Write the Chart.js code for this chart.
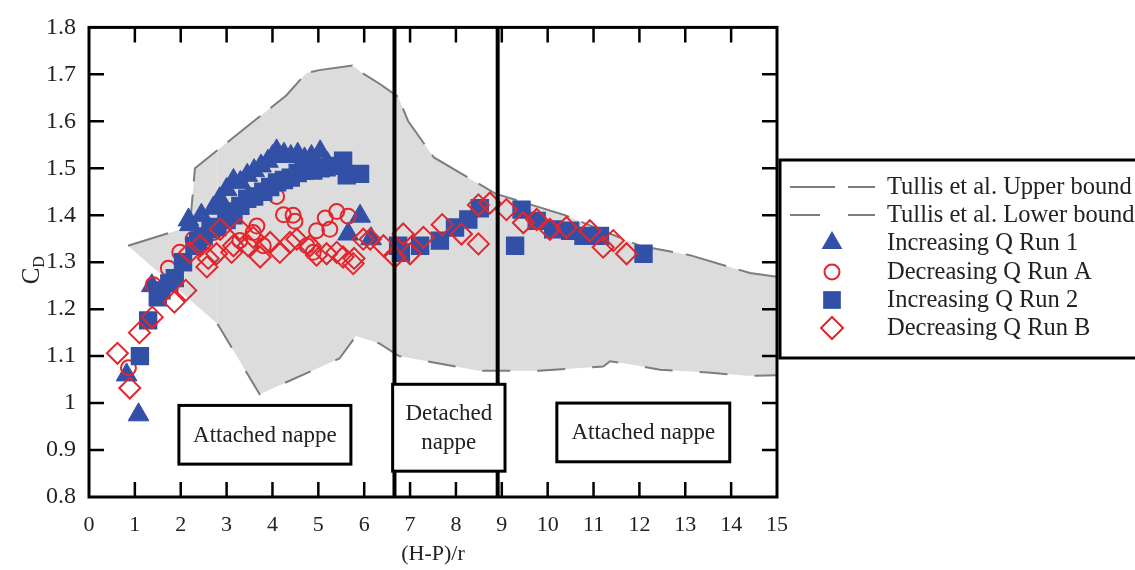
<!DOCTYPE html>
<html>
<head>
<meta charset="utf-8">
<script src="https://cdn.jsdelivr.net/npm/chart.js@4.4.1/dist/chart.umd.min.js"></script>
<style>
  html, body { margin: 0; padding: 0; background: #fff; }
  #wrap { width: 1135px; height: 570px; }
</style>
</head>
<body>
<div id="wrap"><canvas id="chart" width="1135" height="570"></canvas></div>
<script>
const X_TICKS = [0, 1, 2, 3, 4, 5, 6, 7, 8, 9, 10, 11, 12, 13, 14, 15];
const Y_TICKS = [0.8, 0.9, 1.0, 1.1, 1.2, 1.3, 1.4, 1.5, 1.6, 1.7, 1.8];

const SERIES_NAMES = [
  "Tullis et al. Upper bound",
  "Tullis et al. Lower bound",
  "Increasing Q Run 1",
  "Decreasing Q Run A",
  "Increasing Q Run 2",
  "Decreasing Q Run B",
];

// [ (H-P)/r , C_D ]
const RUN_1 = [
  [0.82, 1.06], [1.08, 0.975], [1.37, 1.25], [2.17, 1.39], [2.2, 1.38], [2.45, 1.40],
  [2.71, 1.415], [2.85, 1.435], [3.0, 1.455], [3.15, 1.474], [3.3, 1.47], [3.45, 1.485],
  [3.6, 1.495], [3.75, 1.505], [3.9, 1.515], [4.0, 1.525], [4.09, 1.537], [4.25, 1.53],
  [4.4, 1.525], [4.55, 1.53], [4.7, 1.52], [4.85, 1.525], [5.04, 1.535], [5.2, 1.51],
  [5.65, 1.36], [5.91, 1.398], [6.15, 1.35],
];
const RUN_A = [
  [0.86, 1.075], [1.40, 1.252], [1.73, 1.287], [1.98, 1.321], [2.27, 1.349], [2.71, 1.363],
  [3.29, 1.346], [3.58, 1.363], [3.66, 1.377], [3.80, 1.335], [4.09, 1.44], [4.24, 1.401],
  [4.45, 1.40], [4.49, 1.387], [4.75, 1.335], [4.89, 1.321], [4.96, 1.367], [5.15, 1.394],
  [5.25, 1.37], [5.40, 1.408], [5.65, 1.398],
];
const RUN_2 = [
  [1.11, 1.10], [1.29, 1.176], [1.5, 1.225], [1.58, 1.24], [1.75, 1.255], [1.87, 1.266],
  [2.05, 1.30], [2.3, 1.335], [2.38, 1.345], [2.5, 1.355], [2.65, 1.37], [2.8, 1.375],
  [3.0, 1.39], [3.0, 1.408], [3.15, 1.40], [3.3, 1.42], [3.45, 1.435], [3.6, 1.44],
  [3.8, 1.45], [3.95, 1.46], [4.1, 1.47], [4.25, 1.475], [4.4, 1.48], [4.55, 1.49],
  [4.7, 1.495], [4.89, 1.495], [5.05, 1.50], [5.18, 1.502], [5.35, 1.505], [5.54, 1.516],
  [5.62, 1.485], [5.91, 1.488],
  [6.74, 1.335], [6.8, 1.32], [7.22, 1.335], [7.65, 1.346], [7.98, 1.374], [8.27, 1.391],
  [8.52, 1.415], [9.29, 1.335], [9.43, 1.412], [9.76, 1.388], [10.12, 1.37], [10.49, 1.367],
  [10.78, 1.356], [11.14, 1.356], [12.09, 1.318],
];
const RUN_B = [
  [0.62, 1.106], [0.89, 1.032], [1.1, 1.15], [1.38, 1.183], [1.86, 1.215], [2.11, 1.24],
  [2.2, 1.321], [2.42, 1.335], [2.57, 1.29], [2.6, 1.308], [2.78, 1.318], [2.86, 1.37],
  [3.11, 1.321], [3.15, 1.335], [3.29, 1.37], [3.47, 1.335], [3.58, 1.353], [3.73, 1.311],
  [3.95, 1.342], [4.16, 1.321], [4.38, 1.342], [4.53, 1.349], [4.82, 1.335], [4.96, 1.315],
  [5.18, 1.318], [5.40, 1.321], [5.54, 1.311], [5.76, 1.297], [5.78, 1.308], [5.98, 1.349],
  [6.13, 1.349], [6.42, 1.335],
  [6.67, 1.311], [6.85, 1.36], [7.0, 1.318], [7.29, 1.353], [7.7, 1.38], [8.12, 1.36],
  [8.49, 1.339], [8.49, 1.422], [8.74, 1.426], [9.1, 1.412], [9.47, 1.384], [9.76, 1.391],
  [10.05, 1.37], [10.41, 1.374], [10.92, 1.367], [11.21, 1.332], [11.43, 1.346], [11.72, 1.318],
];
const UPPER_BOUND = [
  [0.85, 1.335], [2.2, 1.376], [2.31, 1.50], [3.46, 1.59], [4.3, 1.655], [4.74, 1.703],
  [5.02, 1.709], [5.74, 1.719], [5.96, 1.703], [6.35, 1.679], [6.74, 1.652], [6.96, 1.60],
  [7.52, 1.523], [8.86, 1.446], [10.38, 1.40], [12.01, 1.335], [13.1, 1.315], [14.41, 1.277],
  [15, 1.269],
];
const LOWER_BOUND = [
  [0.85, 1.335], [2.8, 1.169], [3.72, 1.019], [5.46, 1.095], [5.82, 1.143], [6.33, 1.127],
  [6.76, 1.10], [8.5, 1.069], [9.8, 1.069], [11.21, 1.078], [11.36, 1.089], [12.01, 1.079],
  [12.45, 1.071], [13.5, 1.065], [14.34, 1.058], [15, 1.059],
];

const REGIME_LINES = [6.66, 8.91];
const REGIME_BOXES = [
  { x0: 1.96, x1: 5.71, y0: 0.87, y1: 0.995, text: ["Attached nappe"] },
  { x0: 6.62, x1: 9.07, y0: 0.855, y1: 1.04, text: ["Detached", "nappe"] },
  { x0: 10.2, x1: 13.97, y0: 0.875, y1: 1.0, text: ["Attached nappe"] },
];

const BLUE = "#3150a6";
const RED = "#e3262c";
const BOUND_GREY = "#7d7d7d";
const FILL_GREY = "#dcdcdc";
const SERIF = "'Liberation Serif', 'DejaVu Serif', serif";

const pts = arr => arr.map(([x, y]) => ({ x, y }));

function drawMarker(ctx, style, x, y, r, color, filled) {
  ctx.save();
  ctx.beginPath();
  if (style === "triangle") {
    ctx.moveTo(x, y - r);
    ctx.lineTo(x + r * 0.866, y + r * 0.5);
    ctx.lineTo(x - r * 0.866, y + r * 0.5);
    ctx.closePath();
  } else if (style === "rect") {
    const s = r * Math.SQRT1_2;
    ctx.rect(x - s, y - s, 2 * s, 2 * s);
  } else if (style === "rectRot") {
    ctx.moveTo(x, y - r); ctx.lineTo(x + r, y); ctx.lineTo(x, y + r); ctx.lineTo(x - r, y);
    ctx.closePath();
  } else {
    ctx.arc(x, y, r, 0, Math.PI * 2);
  }
  if (filled) { ctx.fillStyle = color; ctx.fill(); }
  else { ctx.strokeStyle = color; ctx.lineWidth = 2; ctx.stroke(); }
  ctx.restore();
}

const decorations = {
  id: "decorations",
  afterDatasetsDraw(chart) {
    const { ctx, chartArea: a, scales: { x, y } } = chart;
    ctx.save();

    // regime separators
    ctx.strokeStyle = "#000";
    ctx.lineWidth = 4;
    REGIME_LINES.forEach(v => {
      const px = x.getPixelForValue(v);
      ctx.beginPath(); ctx.moveTo(px, a.top); ctx.lineTo(px, a.bottom); ctx.stroke();
    });

    // regime boxes
    ctx.lineWidth = 3;
    ctx.font = "23px " + SERIF;
    ctx.textAlign = "center";
    ctx.textBaseline = "middle";
    REGIME_BOXES.forEach(b => {
      const l = x.getPixelForValue(b.x0), r = x.getPixelForValue(b.x1);
      const t = y.getPixelForValue(b.y1), btm = y.getPixelForValue(b.y0);
      ctx.fillStyle = "#fff";
      ctx.fillRect(l, t, r - l, btm - t);
      ctx.strokeRect(l, t, r - l, btm - t);
      ctx.fillStyle = "#222";
      const cy = (t + btm) / 2, lh = 29;
      b.text.forEach((s, i) => ctx.fillText(s, (l + r) / 2, cy + 1 + (i - (b.text.length - 1) / 2) * lh));
    });

    // frame + inward ticks
    ctx.strokeStyle = "#000";
    ctx.lineWidth = 3;
    ctx.strokeRect(a.left, a.top, a.right - a.left, a.bottom - a.top);
    ctx.lineWidth = 2.5;
    const tl = 15;
    X_TICKS.slice(1, -1).forEach(v => {
      const px = x.getPixelForValue(v);
      ctx.beginPath();
      ctx.moveTo(px, a.bottom); ctx.lineTo(px, a.bottom - tl);
      ctx.moveTo(px, a.top); ctx.lineTo(px, a.top + tl);
      ctx.stroke();
    });
    Y_TICKS.slice(1, -1).forEach(v => {
      const py = y.getPixelForValue(v);
      ctx.beginPath();
      ctx.moveTo(a.left, py); ctx.lineTo(a.left + tl, py);
      ctx.moveTo(a.right, py); ctx.lineTo(a.right - tl, py);
      ctx.stroke();
    });

    // y title C_D
    ctx.save();
    ctx.translate(31, 271);
    ctx.rotate(-Math.PI / 2);
    ctx.fillStyle = "#222";
    ctx.textAlign = "left";
    ctx.textBaseline = "alphabetic";
    ctx.font = "25px " + SERIF;
    const cw = ctx.measureText("C").width;
    ctx.fillText("C", -cw / 2 - 5, 8);
    ctx.font = "16px " + SERIF;
    ctx.fillText("D", cw / 2 - 5, 13);
    ctx.restore();

    // legend box
    const lx = 780, ly = 160, lb = 358;
    ctx.fillStyle = "#fff";
    ctx.fillRect(lx, ly, 400, lb - ly);
    ctx.lineWidth = 3;
    ctx.strokeRect(lx, ly, 400, lb - ly);
    const rows = [187, 215, 243, 272, 300, 328];
    chart.data.datasets.forEach((ds, i) => {
      const ry = rows[i];
      if (ds.legendDash) {
        ctx.save();
        ctx.strokeStyle = BOUND_GREY;
        ctx.lineWidth = 2;
        ctx.setLineDash(ds.legendDash);
        ctx.beginPath(); ctx.moveTo(790, ry); ctx.lineTo(875, ry); ctx.stroke();
        ctx.restore();
      } else {
        drawMarker(ctx, ds.pointStyle, 832, ry, ds.legendRadius, ds.pointBorderColor, ds.legendFilled);
      }
      ctx.fillStyle = "#222";
      ctx.font = "24.5px " + SERIF;
      ctx.textAlign = "left";
      ctx.textBaseline = "middle";
      ctx.fillText(ds.label, 887, ry + 1);
    });
    ctx.restore();
  },
};

new Chart(document.getElementById("chart"), {
  type: "line",
  data: {
    datasets: [
      {
        label: SERIES_NAMES[0], data: pts(UPPER_BOUND), borderColor: BOUND_GREY, borderWidth: 2,
        borderDash: [42, 13], legendDash: [45, 13], pointRadius: 0, fill: "+1",
        backgroundColor: FILL_GREY, tension: 0, order: 6,
      },
      {
        label: SERIES_NAMES[1], data: pts(LOWER_BOUND), borderColor: BOUND_GREY, borderWidth: 2,
        borderDash: [28, 27], legendDash: [30, 28], pointRadius: 0, fill: false, tension: 0, order: 5,
        segment: { borderColor: c => (c.p0DataIndex === 0 ? "rgba(0,0,0,0)" : BOUND_GREY) },
      },
      {
        label: SERIES_NAMES[2], data: pts(RUN_1), showLine: false, pointStyle: "triangle",
        pointRadius: 12, pointBackgroundColor: BLUE, pointBorderColor: BLUE, pointBorderWidth: 1,
        legendRadius: 12, legendFilled: true, order: 4,
      },
      {
        label: SERIES_NAMES[3], data: pts(RUN_A), showLine: false, pointStyle: "circle",
        pointRadius: 7.5, pointBackgroundColor: "rgba(0,0,0,0)", pointBorderColor: RED, pointBorderWidth: 2,
        legendRadius: 7.5, legendFilled: false, order: 3,
      },
      {
        label: SERIES_NAMES[4], data: pts(RUN_2), showLine: false, pointStyle: "rect",
        pointRadius: 13, pointBackgroundColor: BLUE, pointBorderColor: BLUE, pointBorderWidth: 0,
        legendRadius: 12.5, legendFilled: true, order: 2,
      },
      {
        label: SERIES_NAMES[5], data: pts(RUN_B), showLine: false, pointStyle: "rectRot",
        pointRadius: 10.5, pointBackgroundColor: "rgba(0,0,0,0)", pointBorderColor: RED, pointBorderWidth: 2,
        legendRadius: 11, legendFilled: false, order: 1,
      },
    ],
  },
  options: {
    responsive: false,
    animation: false,
    layout: { padding: { left: 0, right: 358, top: 17, bottom: 0 } },
    plugins: {
      legend: { display: false },
      tooltip: { enabled: false },
      filler: { drawTime: "beforeDatasetsDraw" },
    },
    scales: {
      x: {
        type: "linear", min: 0, max: 15,
        afterBuildTicks: s => { s.ticks = X_TICKS.map(v => ({ value: v })); },
        afterFit: s => { s.height = 73; },
        grid: { display: false, drawTicks: false },
        border: { display: false },
        ticks: { color: "#222", padding: 15, font: { family: SERIF, size: 22 } },
        title: { display: true, text: "(H-P)/r", color: "#222", font: { family: SERIF, size: 22 }, padding: { top: 0, bottom: 3 } },
      },
      y: {
        type: "linear", min: 0.8, max: 1.8,
        afterBuildTicks: s => { s.ticks = Y_TICKS.map(v => ({ value: v })); },
        afterFit: s => { s.width = 89; },
        grid: { display: false, drawTicks: false },
        border: { display: false },
        ticks: { color: "#222", padding: 13, font: { family: SERIF, size: 24 }, callback: v => String(Math.round(v * 10) / 10) },
      },
    },
  },
  plugins: [decorations],
});
</script>
</body>
</html>
